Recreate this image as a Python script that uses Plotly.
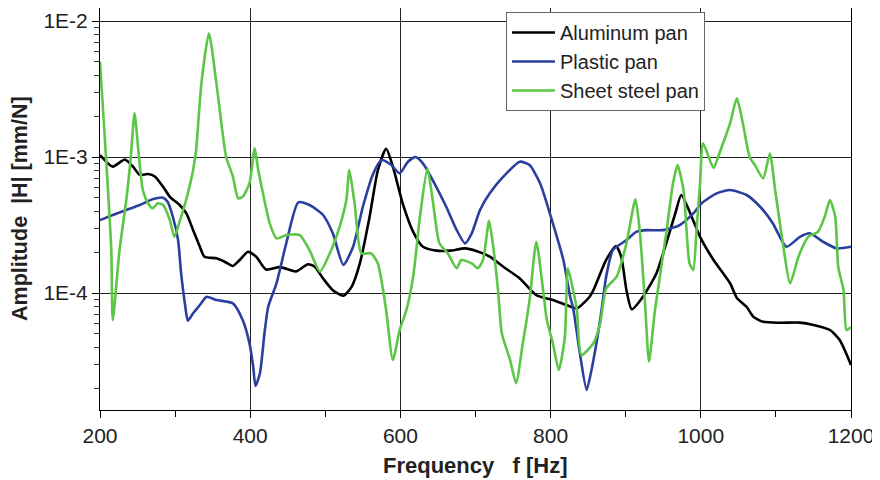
import plotly.graph_objects as go

# ---------------- data ----------------
freq_aluminum = [200, 217, 233, 244, 253, 264, 273, 284, 293, 306, 315, 324, 333, 339, 355, 366, 377, 386, 397, 408,
                 421, 439, 453, 461, 477, 486, 497, 510, 524, 535, 546, 559, 570, 581, 590, 603, 617, 630, 648, 666,
                 686, 701, 719, 737, 759, 781, 803, 821, 835, 852, 857, 874, 887, 894, 901, 908, 923, 941, 954, 966,
                 974, 986, 999, 1017, 1039, 1048, 1061, 1070, 1083, 1105, 1132, 1150, 1172, 1185, 1200]
amp_aluminum = [1.035e-3, 8.5e-4, 9.6e-4, 8.5e-4, 7.4e-4, 7.5e-4, 7.2e-4, 6.05e-4, 5.1e-4, 4.44e-4,
                3.85e-4, 2.9e-4, 2.19e-4, 1.85e-4, 1.8e-4, 1.7e-4, 1.58e-4, 1.75e-4, 2.01e-4, 1.85e-4,
                1.49e-4, 1.55e-4, 1.48e-4, 1.44e-4, 1.63e-4, 1.56e-4, 1.28e-4, 1.05e-4, 9.55e-5, 1.11e-4,
                1.65e-4, 3.64e-4, 8.0e-4, 1.15e-3, 8.5e-4, 4.57e-4, 2.82e-4, 2.19e-4, 2.05e-4, 2.05e-4,
                2.13e-4, 2.04e-4, 1.85e-4, 1.56e-4, 1.28e-4, 9.66e-5, 8.88e-5, 8.16e-5, 7.71e-5, 9.4e-5,
                1.05e-4, 1.75e-4, 2.22e-4, 1.85e-4, 1.05e-4, 7.59e-5, 9.4e-5, 1.4e-4, 2.32e-4, 3.85e-4,
                5.26e-4, 3.85e-4, 2.59e-4, 1.75e-4, 1.18e-4, 9.2e-5, 7.9e-5, 6.7e-5, 6.15e-5, 6.05e-5,
                6.06e-5, 5.82e-5, 5.35e-5, 4.51e-5, 2.96e-5]

freq_plastic = [200, 217, 235, 253, 270, 284, 290, 297, 304, 308, 313, 317, 324, 333, 342, 355, 377, 390, 399, 404,
                407, 413, 419, 424, 435, 448, 464, 479, 497, 510, 524, 537, 550, 564, 575, 588, 599, 610, 620, 630,
                643, 661, 675, 686, 695, 706, 719, 737, 759, 772, 786, 803, 817, 826, 830, 839, 848, 857, 866, 874,
                883, 901, 914, 928, 950, 972, 990, 1001, 1021, 1039, 1061, 1079, 1096, 1114, 1132, 1145, 1163, 1181, 1200]
amp_plastic = [3.44e-4, 3.75e-4, 4.08e-4, 4.44e-4, 4.89e-4, 5.02e-4, 4.69e-4, 3.64e-4, 2.45e-4, 1.4e-4,
               8.4e-5, 6.25e-5, 7.1e-5, 8.16e-5, 9.4e-5, 8.88e-5, 8.4e-5, 6.33e-5, 4.27e-5, 2.87e-5,
               2.07e-5, 2.57e-5, 5.06e-5, 7.93e-5, 1.18e-4, 2.32e-4, 4.65e-4, 4.44e-4, 3.75e-4, 2.75e-4,
               1.61e-4, 2.19e-4, 4.31e-4, 7.59e-4, 9.5e-4, 8.73e-4, 7.59e-4, 9.24e-4, 1.0e-3, 8.99e-4,
               6.77e-4, 4.31e-4, 2.9e-4, 2.32e-4, 2.75e-4, 4.08e-4, 5.41e-4, 7.17e-4, 9.24e-4, 8.73e-4,
               6.41e-4, 3.25e-4, 1.75e-4, 9.4e-5, 7.76e-5, 3.6e-5, 1.94e-5, 3.22e-5, 6.33e-5, 1.32e-4,
               2.07e-4, 2.45e-4, 2.82e-4, 2.9e-4, 2.9e-4, 3.16e-4, 3.85e-4, 4.57e-4, 5.41e-4, 5.72e-4,
               5.26e-4, 4.31e-4, 3.25e-4, 2.19e-4, 2.59e-4, 2.75e-4, 2.38e-4, 2.13e-4, 2.19e-4]

freq_steel = [200, 208, 215, 217, 226, 235, 241, 246, 251, 257, 264, 270, 277, 284, 293, 299, 308, 317, 324, 328,
              335, 345, 355, 368, 377, 384, 390, 399, 406, 410, 417, 426, 435, 448, 466, 479, 493, 506, 519, 528,
              532, 539, 548, 561, 570, 577, 581, 590, 599, 608, 617, 626, 636, 643, 652, 663, 675, 681, 695, 703,
              710, 718, 723, 730, 735, 746, 754, 763, 772, 781, 790, 795, 803, 811, 819, 823, 830, 835, 841, 857,
              866, 874, 888, 901, 913, 919, 926, 931, 939, 954, 963, 969, 977, 985, 990, 994, 999, 1003, 1017, 1023,
              1028, 1039, 1048, 1056, 1065, 1072, 1083, 1092, 1099, 1108, 1119, 1130, 1143, 1156, 1165, 1172, 1179,
              1183, 1190, 1194, 1200]
amp_steel = [5.03e-3, 1.0e-3, 2.07e-4, 6.33e-5, 2.07e-4, 4.83e-4, 1.0e-3, 2.1e-3, 1.13e-3, 5.72e-4,
             4.57e-4, 4.2e-4, 4.57e-4, 4.44e-4, 3.44e-4, 2.59e-4, 3.64e-4, 5.41e-4, 8.02e-4, 1.13e-3,
             3.48e-3, 8.12e-3, 3.48e-3, 1.0e-3, 7.17e-4, 4.97e-4, 5.1e-4, 6.41e-4, 1.16e-3, 8.49e-4,
             5.41e-4, 3.25e-4, 2.52e-4, 2.67e-4, 2.67e-4, 2.07e-4, 1.44e-4, 1.96e-4, 3.07e-4, 4.83e-4,
             8.02e-4, 4.57e-4, 1.96e-4, 1.96e-4, 1.65e-4, 1.05e-4, 7.5e-5, 3.22e-5, 5.35e-5, 7.5e-5,
             1.32e-4, 3.64e-4, 8.26e-4, 4.83e-4, 2.32e-4, 1.96e-4, 1.52e-4, 1.75e-4, 1.65e-4, 1.52e-4,
             1.75e-4, 3.4e-4, 2.32e-4, 1.05e-4, 5.06e-5, 3.22e-5, 2.17e-5, 4.27e-5, 8.88e-5, 2.38e-4,
             1.05e-4, 6.33e-5, 4.27e-5, 2.72e-5, 4.77e-5, 1.52e-4, 1.05e-4, 7.5e-5, 3.5e-5, 4.27e-5,
             5.98e-5, 1.08e-4, 1.32e-4, 2.32e-4, 4.89e-4, 2.75e-4, 7.93e-5, 3.13e-5, 7.5e-5, 2.75e-4,
             6.41e-4, 8.73e-4, 5.72e-4, 1.65e-4, 1.48e-4, 2.75e-4, 6.41e-4, 1.26e-3, 8.3e-4, 1.0e-3,
             1.19e-3, 1.77e-3, 2.7e-3, 1.77e-3, 1.0e-3, 8.73e-4, 6.97e-4, 1.06e-3, 5.72e-4, 2.59e-4,
             1.18e-4, 1.85e-4, 2.59e-4, 2.82e-4, 3.64e-4, 4.83e-4, 3.64e-4, 1.56e-4, 1.05e-4, 5.35e-5,
             5.6e-5]

series_names = ["Aluminum pan", "Plastic pan", "Sheet steel pan"]
x_ticks = [200, 400, 600, 800, 1000, 1200]
x_minor_ticks = [300, 500, 700, 900, 1100]
y_ticks = [1e-4, 1e-3, 1e-2]
y_tick_labels = ["1E-4", "1E-3", "1E-2"]
y_minor_ticks = [m * 10.0 ** e for e in (-5, -4, -3) for m in range(2, 10)]

colors = ["#000000", "#2b3f9e", "#5cc646"]

# ---------------- figure ----------------
fig = go.Figure()
for i, (fx, ay) in enumerate([(freq_aluminum, amp_aluminum),
                              (freq_plastic, amp_plastic),
                              (freq_steel, amp_steel)]):
    fig.add_trace(go.Scatter(
        x=fx, y=ay, mode="lines", name=series_names[i],
        line=dict(color=colors[i], width=2.6, shape="spline", smoothing=0.6),
    ))

FONT = "Liberation Sans, Arial, Helvetica, sans-serif"

# page body has an 8px margin, so the figure is sized to fit the 880x480 window
fig.update_layout(
    width=872, height=472,
    margin=dict(l=92, r=29, t=0, b=70),
    plot_bgcolor="white", paper_bgcolor="white",
    font=dict(family=FONT, size=21, color="#222222"),
    showlegend=True,
    legend=dict(
        x=0.5406, y=0.990, xanchor="left", yanchor="top",
        bgcolor="white", bordercolor="#666666", borderwidth=1,
        font=dict(family=FONT, size=20, color="#222222"),
        itemwidth=43,
    ),
    xaxis=dict(
        range=[200, 1200], tickmode="array", tickvals=x_ticks,
        ticks="outside", ticklen=7, tickwidth=1, tickcolor="black",
        showline=True, linecolor="black", linewidth=1, mirror=True,
        showgrid=True, gridcolor="#222222", gridwidth=1, zeroline=False,
        tickfont=dict(size=21),
        minor=dict(tickmode="array", tickvals=x_minor_ticks, ticks="outside",
                   ticklen=6, tickcolor="black", showgrid=False),
    ),
    yaxis=dict(
        type="log", range=[-4.86, -1.904], tickmode="array",
        tickvals=y_ticks, ticktext=y_tick_labels,
        ticks="outside", ticklen=7, tickwidth=1, tickcolor="black",
        showline=True, linecolor="black", linewidth=1, mirror=True,
        showgrid=True, gridcolor="#222222", gridwidth=1, zeroline=False,
        tickfont=dict(size=21),
        minor=dict(tickmode="array", tickvals=y_minor_ticks, ticks="outside",
                   ticklen=5, tickcolor="#333333", showgrid=False),
    ),
    annotations=[
        dict(text="<b>Frequency\u00a0\u00a0\u00a0f [Hz]</b>", xref="paper", yref="paper",
             x=0.5, y=-0.139, xanchor="center", yanchor="middle", showarrow=False,
             font=dict(family=FONT, size=22, color="#222222")),
        dict(text="<b>Amplitude\u00a0\u00a0|H| [mm/N]</b>", xref="paper", yref="paper",
             x=-0.1065, y=0.5, xanchor="center", yanchor="middle", showarrow=False,
             textangle=-90, font=dict(family=FONT, size=21.5, color="#222222")),
    ],
)

fig.write_html("out.html")
